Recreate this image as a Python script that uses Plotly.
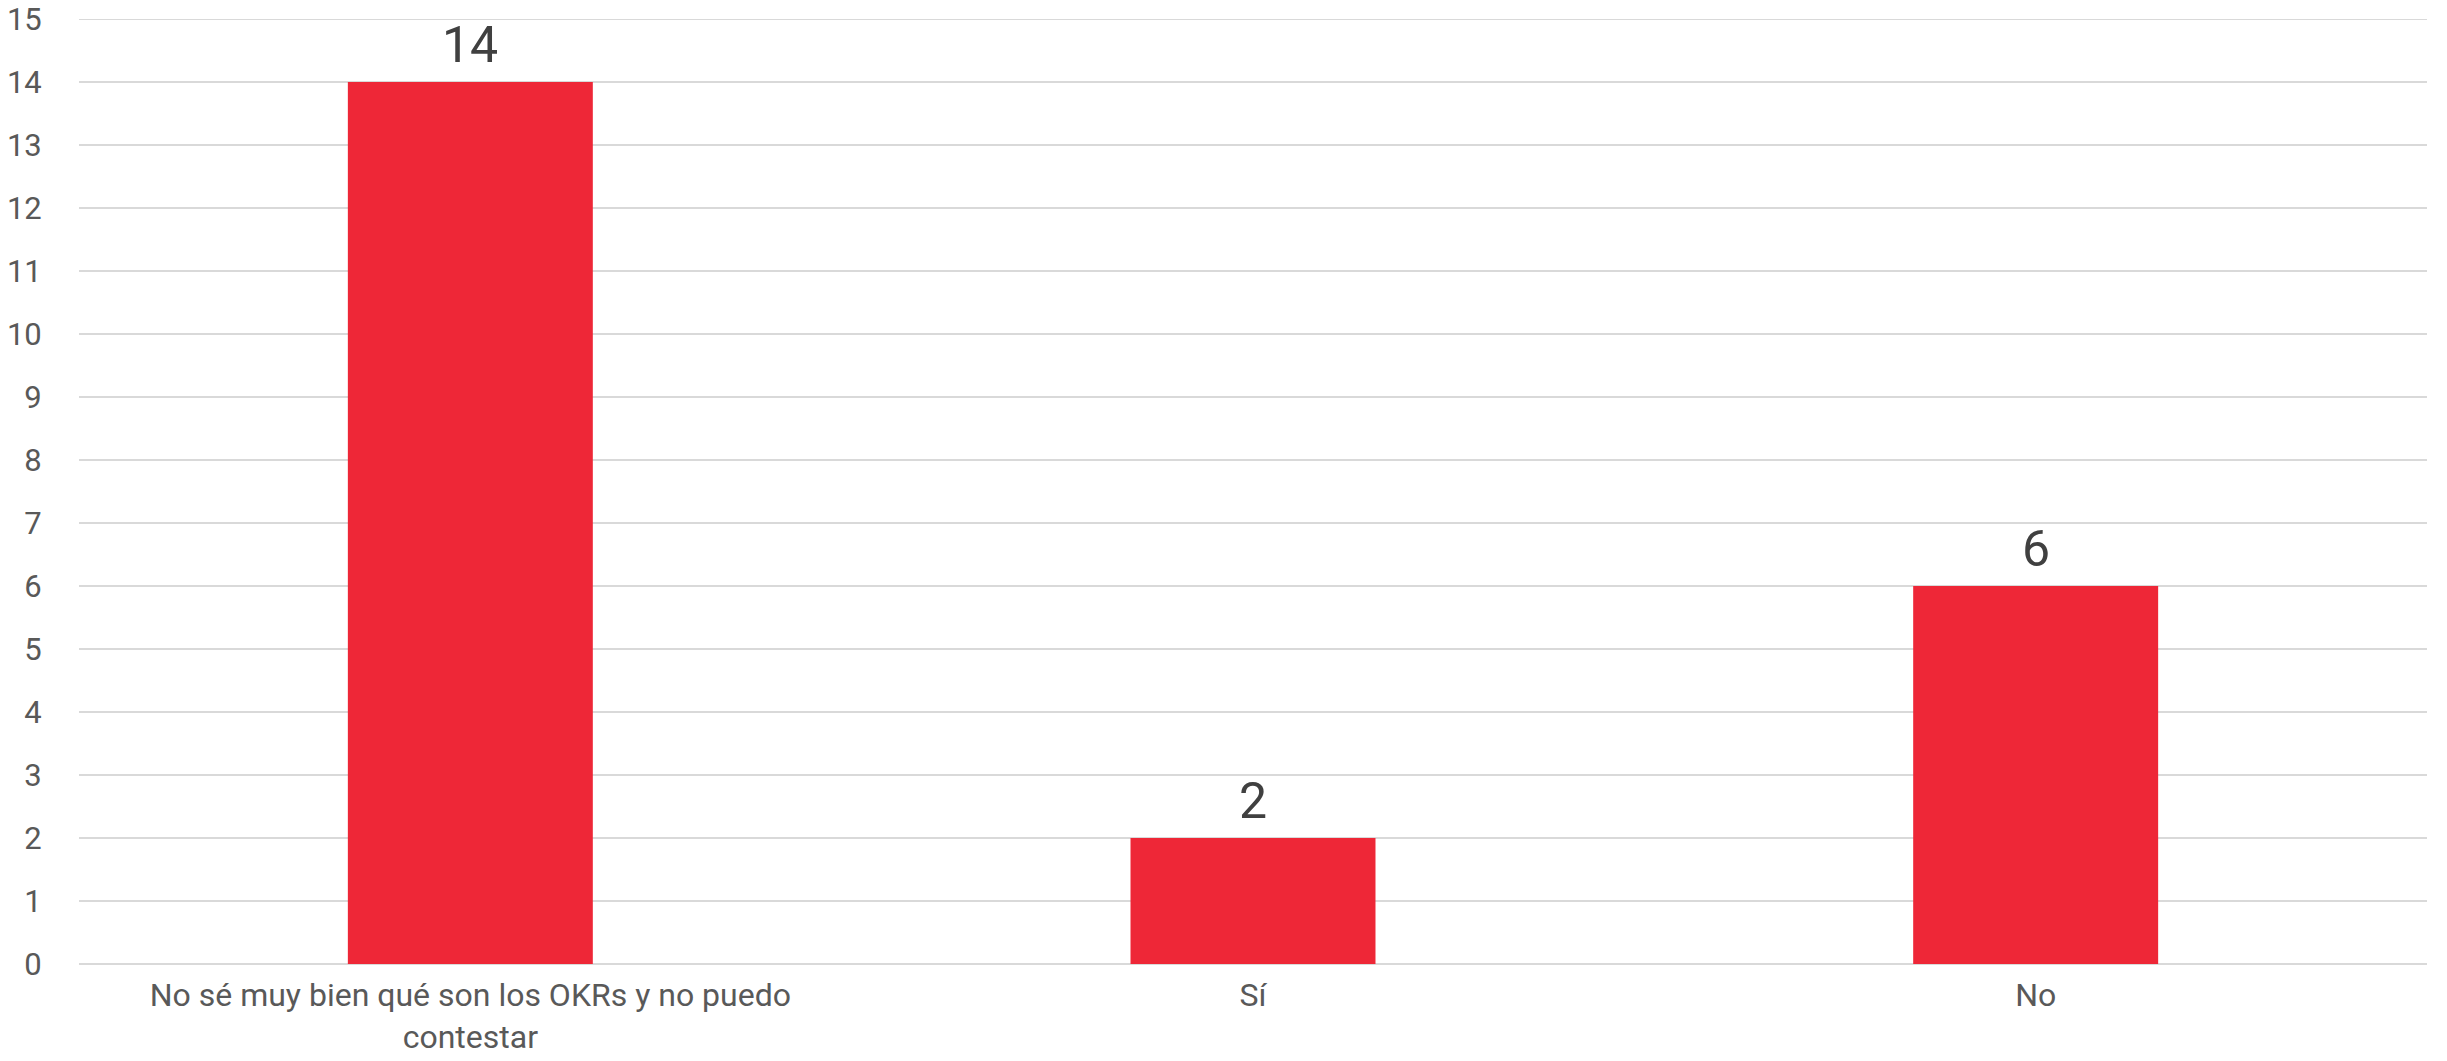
import plotly.graph_objects as go

# Survey answers and respondent counts
categories = [
    "No sé muy bien qué son los OKRs y no puedo<br>contestar",
    "Sí",
    "No",
]
counts = [14, 2, 6]
y_ticks = list(range(0, 16))

BAR_COLOR = "#EE2737"
FONT = "Tahoma, Roboto, sans-serif"

fig = go.Figure(
    go.Bar(
        x=categories,
        y=counts,
        marker=dict(color=BAR_COLOR, line=dict(width=0)),
        hoverinfo="x+y",
    )
)

# Value labels above each bar
for cat, val in zip(categories, counts):
    fig.add_annotation(
        x=cat,
        y=val,
        text=str(val),
        showarrow=False,
        yanchor="middle",
        yshift=37,
        font=dict(family=FONT, size=50, color="#404040"),
    )

fig.update_layout(
    width=2447,
    height=1061,
    margin=dict(l=79, r=20, t=19, b=97),
    paper_bgcolor="white",
    plot_bgcolor="white",
    bargap=0.687,
    showlegend=False,
    font=dict(family=FONT, color="#595959"),
)

fig.update_xaxes(
    showgrid=False,
    showline=False,
    zeroline=False,
    automargin=False,
    tickfont=dict(family=FONT, size=32, color="#595959"),
    ticklabelstandoff=9,
)

fig.update_yaxes(
    range=[0, 15],
    tickvals=y_ticks,
    showgrid=True,
    gridcolor="#D9D9D9",
    gridwidth=2,
    zeroline=True,
    zerolinecolor="#D9D9D9",
    zerolinewidth=2,
    showline=True,
    linecolor="rgba(0,0,0,0)",
    mirror=False,
    automargin=False,
    tickfont=dict(family=FONT, size=31, color="#595959"),
    ticklabelstandoff=30,
)

# Top gridline at the upper end of the value range
fig.add_hline(y=y_ticks[-1], line=dict(color="#D9D9D9", width=2), layer="below")

fig.write_html("out.html")
